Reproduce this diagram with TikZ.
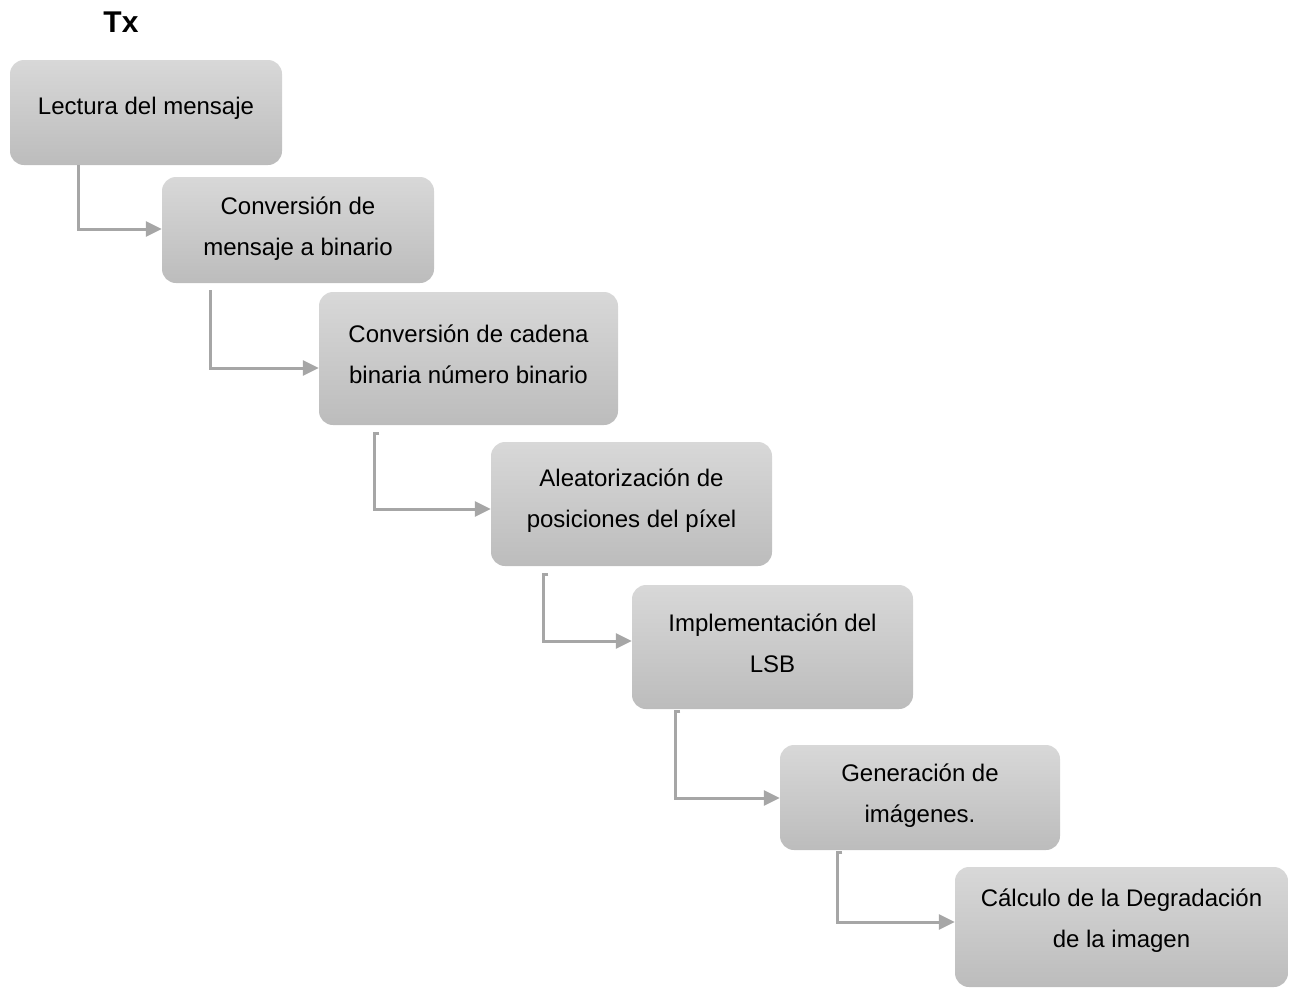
\documentclass[tikz,border=0pt]{standalone}
\usepackage{fontspec}
\setmainfont{Liberation Sans}
\usetikzlibrary{arrows.meta,calc}

\definecolor{boxtop}{RGB}{216,216,216}
\definecolor{boxbot}{RGB}{188,188,188}
\definecolor{linkgray}{RGB}{166,166,166}

\tikzset{
  stepbox/.style={rounded corners=14pt, top color=boxtop, bottom color=boxbot,
    draw=none, inner sep=0pt},
  boxtext/.style={align=center, font=\fontsize{24}{41}\selectfont},
  link/.style={draw=linkgray, line width=3pt,
    -{Triangle[length=16pt,width=15pt]}},
}

\begin{document}
\begin{tikzpicture}[x=1pt,y=-1pt]
\useasboundingbox (0,0) rectangle (1289,988);

\node[font=\fontsize{30}{36}\bfseries] (title) at (121,22) {Tx};

% process steps
\node[stepbox, minimum width=272, minimum height=105,
  label={[boxtext,yshift=4pt]center:Lectura del mensaje}] (b1) at (146,112.5) {};
\node[stepbox, minimum width=272, minimum height=106,
  label={[boxtext,yshift=1.5pt]center:Conversión de\\mensaje a binario}] (b2) at (298,230) {};
\node[stepbox, minimum width=299, minimum height=133,
  label={[boxtext,yshift=4pt]center:Conversión de cadena\\binaria número binario}] (b3) at (468.5,358.5) {};
\node[stepbox, minimum width=281, minimum height=124,
  label={[boxtext,yshift=3.5pt]center:Aleatorización de\\posiciones del píxel}] (b4) at (631.5,504) {};
\node[stepbox, minimum width=281, minimum height=124,
  label={[boxtext,yshift=4pt]center:Implementación del\\LSB}] (b5) at (772.5,647) {};
\node[stepbox, minimum width=280, minimum height=105,
  label={[boxtext,yshift=1.5pt]center:Generación de\\imágenes.}] (b6) at (920,797.5) {};
\node[stepbox, minimum width=333, minimum height=120,
  label={[boxtext,yshift=6.5pt]center:Cálculo de la Degradación\\de la imagen}] (b7) at (1121.5,927) {};

% connector start points below each box
\coordinate (s1) at ($(b1.south west)+(69,0)$);
\coordinate (s2) at ($(b2.south west)+(49,7)$);
\coordinate (s3) at ($(b3.south west)+(56,8)$);
\coordinate (s4) at ($(b4.south west)+(53,8)$);
\coordinate (s5) at ($(b5.south west)+(44,2)$);
\coordinate (s6) at ($(b6.south west)+(58,2)$);

% connectors
\draw[link] (s1) |- ($(b2.west)+(0,-1)$);
\draw[link] (s2) |- ($(b3.west)+(0,9.5)$);
\draw[link] ($(s3)+(4.5,0)$) -- (s3) |- ($(b4.west)+(0,5)$);
\draw[link] ($(s4)+(4.5,0)$) -- (s4) |- ($(b5.west)+(0,-6)$);
\draw[link] ($(s5)+(4.5,0)$) -- (s5) |- ($(b6.west)+(0,0.5)$);
\draw[link] ($(s6)+(4.5,0)$) -- (s6) |- ($(b7.west)+(0,-5)$);
\end{tikzpicture}
\end{document}
